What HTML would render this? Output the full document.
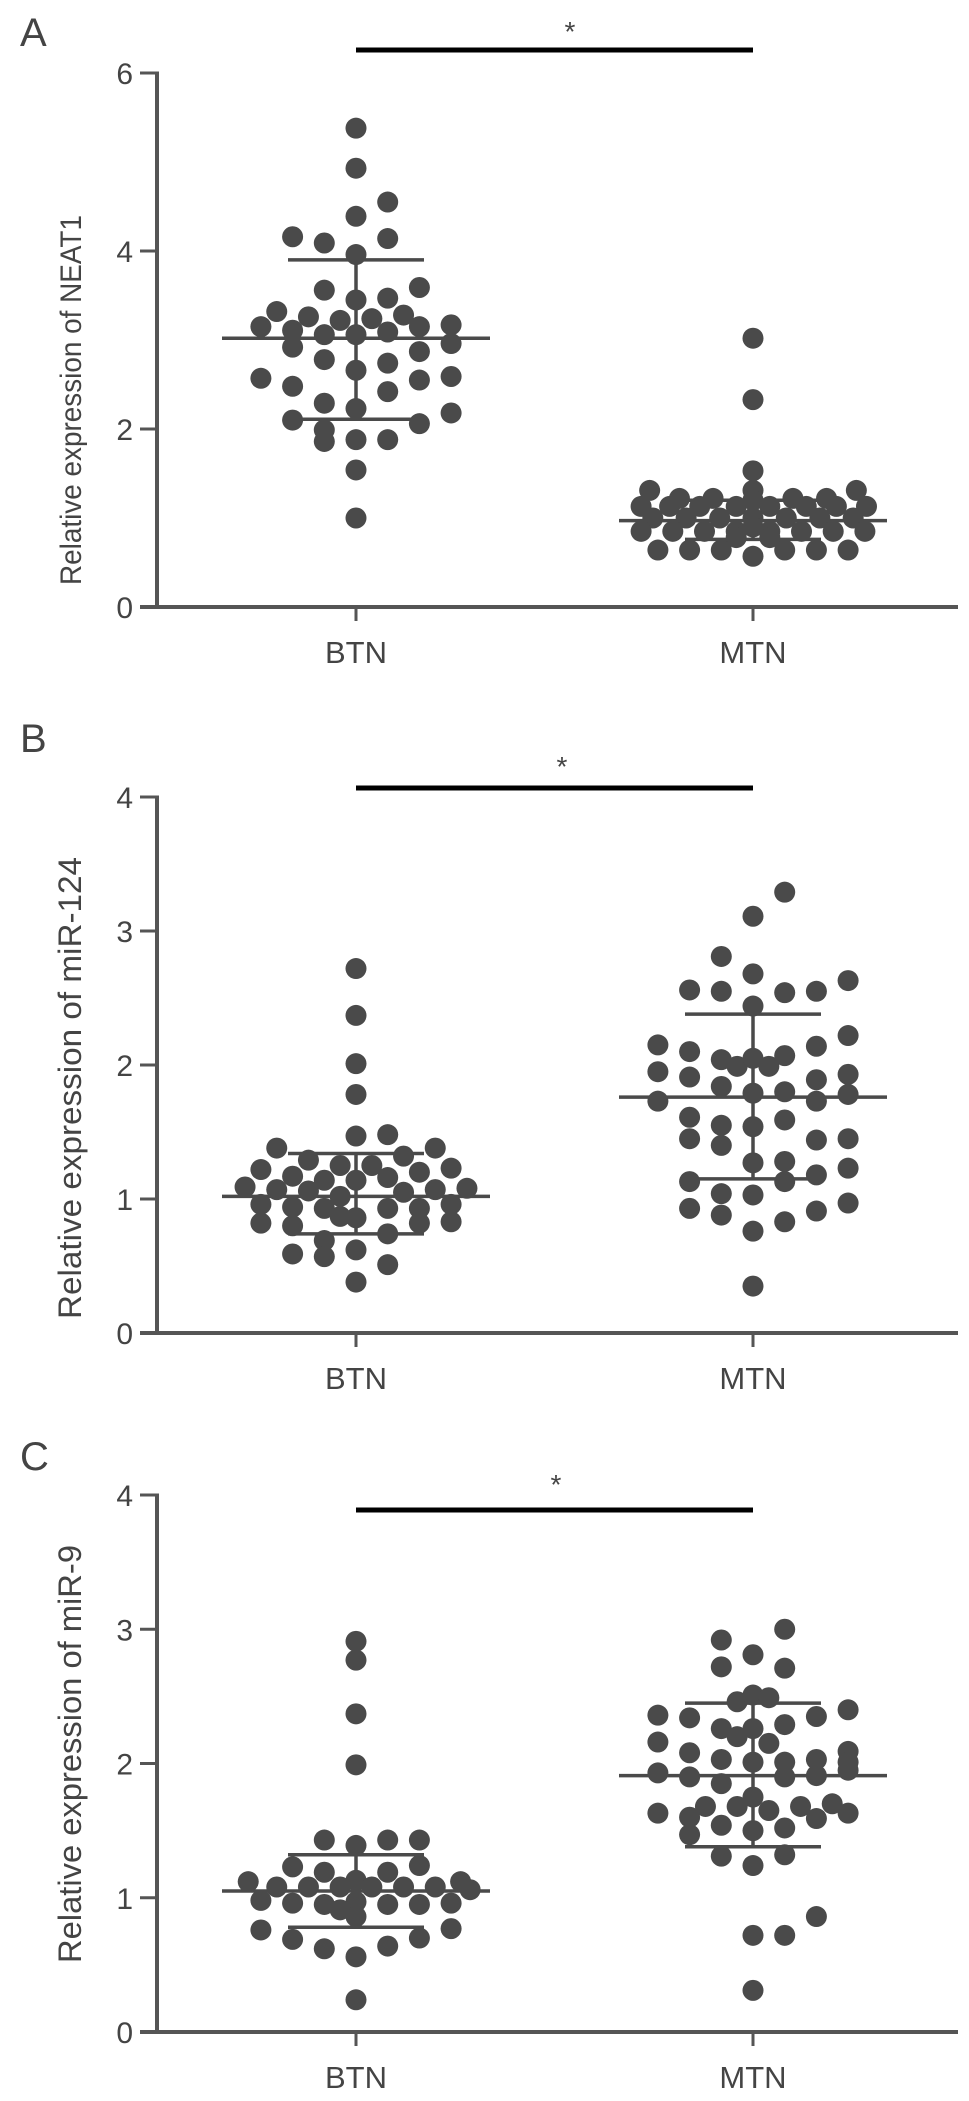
<!DOCTYPE html>
<html>
<head>
<meta charset="utf-8">
<style>
html,body{margin:0;padding:0;background:#fff;}
svg{display:block;}
text{font-family:"Liberation Sans",sans-serif;fill:#444;}
</style>
</head>
<body>
<svg id="fig" width="969" height="2101" viewBox="0 0 969 2101" xmlns="http://www.w3.org/2000/svg"></svg>
<script>
// ---------- shared ----------
const categories = ["BTN", "MTN"];

// ---------- Panel A: NEAT1 ----------
const aTicks = [0, 2, 4, 6];
const aBtnVals = [5.38,4.93,4.39,3.96,3.45,3.06,2.66,2.23,1.88,1.54,1.0,
  4.55,4.14,3.47,3.09,2.74,2.42,1.88,
  4.09,3.56,3.06,2.78,2.29,1.99,1.86,
  4.16,3.11,2.92,2.48,2.10,
  3.32,3.26,3.22,3.24,3.28,
  3.59,3.15,2.87,2.55,2.06,
  3.17,2.96,2.59,2.18,
  3.15,2.57];
const aBtnCols = [0,0,0,0,0,0,0,0,0,0,0,
  1,1,1,1,1,1,1,
  -1,-1,-1,-1,-1,-1,-1,
  -2,-2,-2,-2,-2,
  -2.5,-1.5,-0.5,0.5,1.5,
  2,2,2,2,2,
  3,3,3,3,
  -3,-3];
const aMtnVals = [3.02,2.33,1.53,
  1.31,1.31,1.31,
  1.22,1.22,1.22,1.22,1.20,
  1.13,1.13,1.13,1.13,1.13,1.13,1.13,1.13,
  1.00,1.00,1.00,1.00,1.00,1.00,1.00,
  0.90,
  0.85,0.85,0.85,0.85,0.85,0.85,0.85,0.85,
  0.78,0.78,
  0.64,0.64,0.64,0.64,0.64,0.64,0.57];
const aMtnCols = [0,0,0,
  -3.26,0,3.26,
  -2.32,-1.26,1.26,2.32,0,
  -3.53,-2.63,-1.68,-0.53,0.53,1.68,2.63,3.58,
  -3.16,-2.11,-1.05,0,1.05,2.11,3.16,
  0,
  -3.53,-2.53,-1.53,-0.53,0.53,1.53,2.53,3.53,
  -0.53,0.53,
  -3.0,-2.0,-1.0,1.0,2.0,3.0,0];
const aMeans = [3.02, 0.97];
const aSdHi = [3.90, 1.20];
const aSdLo = [2.11, 0.76];

// ---------- Panel B: miR-124 ----------
const bTicks = [0, 1, 2, 3, 4];
const bBtnVals = [2.72,2.37,2.01,1.78,1.47,1.48,
  1.38,1.38,1.29,1.25,1.25,1.32,
  1.22,1.17,1.20,1.23,
  1.09,1.14,1.14,1.16,
  1.07,1.06,1.05,1.07,1.08,1.02,
  0.96,0.94,0.93,0.93,0.93,0.96,
  0.87,0.86,
  0.82,0.80,0.82,0.83,
  0.69,0.74,0.59,0.57,0.62,0.51,0.38];
const bBtnCols = [0,0,0,0,0,1,
  -2.5,2.5,-1.5,-0.5,0.5,1.5,
  -3,-2,2,3,
  -3.5,-1,0,1,
  -2.5,-1.5,1.5,2.5,3.5,-0.5,
  -3,-2,-1,1,2,3,
  -0.5,0,
  -3,-2,2,3,
  -1,1,-2,-1,0,1,0];
const bMtnVals = [3.29,3.11,2.81,2.68,
  2.56,2.55,2.54,2.55,2.63,2.44,
  2.15,2.10,2.14,2.22,
  2.04,1.99,2.05,1.99,2.07,
  1.95,1.91,1.89,1.93,
  1.84,1.79,1.80,
  1.73,1.73,1.78,
  1.61,1.55,1.54,1.59,
  1.45,1.40,1.44,1.45,
  1.27,1.28,1.23,
  1.13,1.13,1.18,
  1.04,1.03,0.97,
  0.93,0.88,0.91,0.83,0.76,0.35];
const bMtnCols = [1,0,-1,0,
  -2,-1,1,2,3,0,
  -3,-2,2,3,
  -1,-0.5,0,0.5,1,
  -3,-2,2,3,
  -1,0,1,
  -3,2,3,
  -2,-1,0,1,
  -2,-1,2,3,
  0,1,3,
  -2,1,2,
  -1,0,3,
  -2,-1,2,1,0,0];
const bMeans = [1.02, 1.76];
const bSdHi = [1.34, 2.38];
const bSdLo = [0.74, 1.15];

// ---------- Panel C: miR-9 ----------
const cTicks = [0, 1, 2, 3, 4];
const cBtnVals = [2.91,2.77,2.37,1.99,
  1.43,1.39,1.43,1.43,
  1.23,1.19,1.19,1.24,
  1.12,1.08,1.08,1.08,1.13,1.08,1.08,1.08,1.12,1.06,
  0.98,0.96,0.95,0.97,0.95,0.95,0.96,
  0.91,0.86,
  0.76,0.77,0.69,0.70,0.62,0.64,0.56,0.24];
const cBtnCols = [0,0,0,0,
  -1,0,1,2,
  -2,-1,1,2,
  -3.4,-2.5,-1.5,-0.5,0,0.5,1.5,2.5,3.3,3.6,
  -3,-2,-1,0,1,2,3,
  -0.5,0,
  -3,3,-2,2,-1,1,0,0];
const cMtnVals = [3.00,2.92,2.81,2.72,2.71,
  2.46,2.51,2.49,
  2.36,2.34,2.29,2.35,2.40,
  2.26,2.26,2.20,2.15,
  2.16,2.08,2.09,
  2.03,2.01,2.01,2.03,2.01,
  1.93,1.90,1.85,1.90,1.91,1.95,
  1.75,
  1.63,1.68,1.68,1.65,1.68,1.70,1.63,
  1.60,1.59,
  1.54,1.50,1.52,1.47,
  1.31,1.24,1.32,
  0.86,0.72,0.72,0.31];
const cMtnCols = [1,-1,0,-1,1,
  -0.5,0,0.5,
  -3,-2,1,2,3,
  -1,0,-0.5,0.5,
  -3,-2,3,
  -1,0,1,2,3,
  -3,-2,-1,1,2,3,
  0,
  -3,-1.5,-0.5,0.5,1.5,2.5,3,
  -2,2,
  -1,0,1,-2,
  -1,0,1,
  2,0,1,0];
const cMeans = [1.05, 1.91];
const cSdHi = [1.32, 2.45];
const cSdLo = [0.78, 1.38];

// ---------- drawing ----------
const NS = "http://www.w3.org/2000/svg";
const svg = document.getElementById("fig");
const AXIS_X = 157, X_END = 958, COL = 31.7, R = 10.5;
const CAT_X = [356, 753];
const GRAY = "#4a4a4a", AX = "#555";

function el(tag, attrs, parent) {
  const e = document.createElementNS(NS, tag);
  for (const k in attrs) e.setAttribute(k, attrs[k]);
  (parent || svg).appendChild(e);
  return e;
}

function drawPanel(p) {
  const g = el("g", {});
  
  
  const yMax = p.ticks[p.ticks.length - 1];
  const ppu = (p.y0 - p.yTop) / yMax;
  const y = v => p.y0 - v * ppu;
  const x = (ci, col) => CAT_X[ci] + col * COL;

  const letter = el("text", {x: 20, y: p.letterY, "font-size": 40, fill: "#333"}, g);
  letter.textContent = p.letter;
  
  

  const ya = el("line", {x1: AXIS_X, y1: y(yMax) - 1.5, x2: AXIS_X, y2: p.y0 + 1.5, stroke: AX, "stroke-width": 4}, g);
  
  
  p.ticks.forEach(t => {
    const tk = el("line", {x1: 140, y1: y(t), x2: AXIS_X, y2: y(t), stroke: AX, "stroke-width": 3}, g);
    
    
    const tl = el("text", {x: 133, y: y(t) + 11, "font-size": 30, "text-anchor": "end", fill: "#555"}, g);
    tl.textContent = t;
    
    
  });
  const xa = el("line", {x1: 140, y1: p.y0, x2: X_END, y2: p.y0, stroke: AX, "stroke-width": 4}, g);
  
  
  categories.forEach((c, i) => {
    const tk = el("line", {x1: CAT_X[i], y1: p.y0, x2: CAT_X[i], y2: p.y0 + 14, stroke: AX, "stroke-width": 3}, g);
    
    
    const tl = el("text", {x: CAT_X[i], y: p.y0 + 56, "font-size": 31, "text-anchor": "middle", fill: "#555"}, g);
    tl.textContent = c;
    
    
  });
  const yt = el("text", {x: 0, y: 0, "font-size": p.titleFont, "text-anchor": "middle", fill: "#555",
    textLength: p.titleLen, lengthAdjust: "spacingAndGlyphs",
    transform: "translate(81," + p.titleMid + ") rotate(-90)"}, g);
  yt.textContent = p.title;
  
  

  const sb = el("line", {x1: CAT_X[0], y1: p.barY, x2: CAT_X[1], y2: p.barY, stroke: "#000", "stroke-width": 5}, g);
  
  
  const st = el("text", {x: p.starX, y: p.starY + 14, "font-size": 28, "text-anchor": "middle", fill: "#222"}, g);
  st.textContent = "*";
  
  

  [[p.btnVals, p.btnCols], [p.mtnVals, p.mtnCols]].forEach((grp, ci) => {
    grp[0].forEach((v, i) => {
      const c = el("circle", {cx: x(ci, grp[1][i]), cy: y(v), r: R, fill: GRAY}, g);
      
      
    });
  });
  categories.forEach((c, i) => {
    const cx = CAT_X[i];
    const m = el("line", {x1: cx - 134, y1: y(p.means[i]), x2: cx + 134, y2: y(p.means[i]), stroke: GRAY, "stroke-width": 3.5}, g);
    
    
    const v = el("line", {x1: cx, y1: y(p.sdHi[i]), x2: cx, y2: y(p.sdLo[i]), stroke: GRAY, "stroke-width": 3.5}, g);
    
    
    [p.sdHi[i], p.sdLo[i]].forEach(s => {
      const h = el("line", {x1: cx - 68, y1: y(s), x2: cx + 68, y2: y(s), stroke: GRAY, "stroke-width": 3.5}, g);
      
      
    });
  });
}

drawPanel({name: "panel-a-neat1", letter: "A", letterY: 46, title: "Relative expression of NEAT1",
  titleMid: 400, titleLen: 370, titleFont: 30,
  ticks: aTicks, y0: 607, yTop: 73, barY: 50, starX: 570, starY: 27,
  btnVals: aBtnVals, btnCols: aBtnCols, mtnVals: aMtnVals, mtnCols: aMtnCols,
  means: aMeans, sdHi: aSdHi, sdLo: aSdLo});
drawPanel({name: "panel-b-mir124", letter: "B", letterY: 752, title: "Relative expression of miR-124",
  titleMid: 1088, titleLen: 462, titleFont: 32,
  ticks: bTicks, y0: 1333, yTop: 797, barY: 788, starX: 562, starY: 762,
  btnVals: bBtnVals, btnCols: bBtnCols, mtnVals: bMtnVals, mtnCols: bMtnCols,
  means: bMeans, sdHi: bSdHi, sdLo: bSdLo});
drawPanel({name: "panel-c-mir9", letter: "C", letterY: 1470, title: "Relative expression of miR-9",
  titleMid: 1754, titleLen: 418, titleFont: 32,
  ticks: cTicks, y0: 2032, yTop: 1495, barY: 1510, starX: 556, starY: 1480,
  btnVals: cBtnVals, btnCols: cBtnCols, mtnVals: cMtnVals, mtnCols: cMtnCols,
  means: cMeans, sdHi: cSdHi, sdLo: cSdLo});
</script>
</body>
</html>
